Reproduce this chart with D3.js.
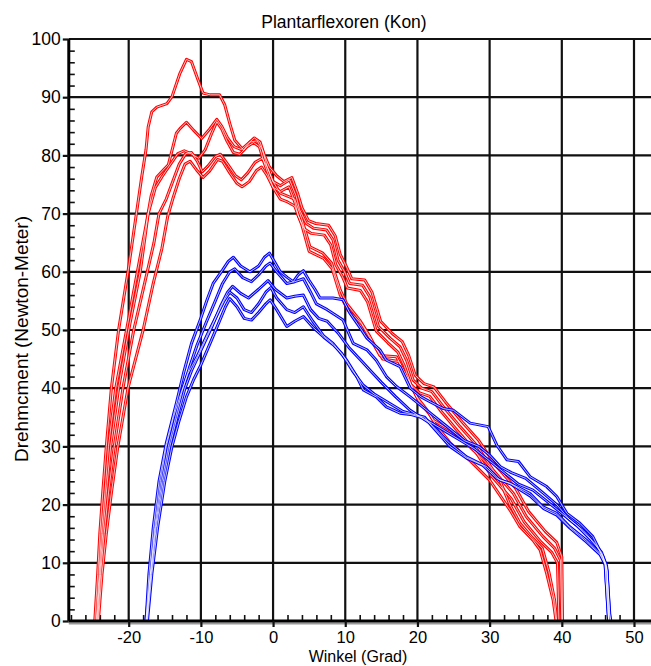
<!DOCTYPE html>
<html><head><meta charset="utf-8">
<script src="https://cdn.jsdelivr.net/npm/d3@7"></script>
<style>body{margin:0;background:#fff}svg{display:block}</style>
</head><body><svg id="c" width="651" height="666"></svg>
<script>
const titleText = "Plantarflexoren (Kon)";
const xTitleText = "Winkel (Grad)";
const yTitleText = "Drehmcment (Newton-Meter)";
const xTicks = [-20,-10,0,10,20,30,40,50];
const yTicks = [0,10,20,30,40,50,60,70,80,90,100];
const xMinor = [-28,-26,-24,-22,-18,-16,-14,-12,-8,-6,-4,-2,2,4,6,8,12,14,16,18,22,24,26,28,32,34,36,38,42,44,46,48];
const yMinor = [2,4,6,8,12,14,16,18,22,24,26,28,32,34,36,38,42,44,46,48,52,54,56,58,62,64,66,68,72,74,76,78,82,84,86,88,92,94,96,98];

// Red series (angle, torque)
const red1 = [[-24.7,0],[-24.3,8],[-24,15],[-23.6,22],[-23.1,30],[-22.4,40],[-21.4,50],[-20.1,60],[-19.4,66],[-18.7,72],[-18.2,76.3],[-17.6,81],[-17.3,84.9],[-16.8,87.5],[-16.1,88.3],[-14.7,88.9],[-14,90.1],[-12.9,94.1],[-12,96.5],[-11.3,96.1],[-10.4,93],[-9.7,90.7],[-8.7,90.4],[-7.4,90.4],[-6.7,88.7],[-6,85.5],[-5.3,82.6],[-4.1,80.9],[-3.2,82.3],[-2.2,82.5],[-1.5,81],[-0.8,78],
  [0,75.5],[1,74.8],[2.3,75.8],[3.2,73],[3.7,70.6],[4.6,68.3],[5.6,67.5],[7.4,67.2],[8.3,65.5],[9,62],[9.9,60],[10.6,58],[12.4,57.7],[13.4,55.7],[14.6,50.6],[16.2,48.6],[17.6,47.1],[18.5,44.8],[19.4,41.4],[20.6,40],[22,39.4],[23.6,36.8],[25.9,33.4],[28.2,30.2],[30.5,25.9],[33.3,21.9],[35.1,17.9],[37.4,14.5],[39,12.5],[39.8,10.5],[40,0]];
const red2 = [[-24.5,0],[-24.1,8],[-23.8,15],[-23.3,22],[-22.8,30],[-21.8,40],[-20.3,50],[-18.8,60],[-17.6,68],[-16.9,73],[-16.1,76.3],[-15.2,77.5],[-14.5,78.4],[-13.4,83.8],[-12.9,84.6],[-12,85.7],[-11,84.3],[-9.9,82.9],[-8.8,84.5],[-7.8,86.2],[-7.1,85],[-6.3,83],[-5.4,81.5],[-4.4,81],[-3.5,82],[-2.6,83],[-1.8,82.3],[-1.2,80],[-0.5,78],
  [0.5,76.5],[1.5,75.5],[2.6,76.2],[3.4,73.5],[4,71],[4.9,68.8],[5.9,68.3],[7.7,68],[8.6,66.2],[9.3,63],[10.2,60.8],[10.9,58.8],[12.7,58.6],[13.7,56.5],[14.9,51.5],[16.5,49.4],[17.9,48],[18.8,45.6],[19.7,42.2],[20.9,40.8],[22.3,40.2],[23.9,37.6],[26.2,34.2],[28.5,31],[30.8,26.8],[33.6,22.8],[35.4,18.8],[37.7,15.4],[39.3,13.5],[40,11],[40.1,0]];
const red3 = [[-24.4,0],[-24,8],[-23.6,15],[-23.1,22],[-22.5,30],[-21.4,40],[-20,50],[-18.4,60],[-17.3,70],[-16.3,74.5],[-15.3,76.5],[-14.2,78.5],[-13.2,80.3],[-12.3,80.8],[-11.4,80.3],[-10.3,79.5],[-9.4,81],[-8.6,83.5],[-7.8,85.8],[-7.1,84.5],[-6.4,82.5],[-5.5,80.5],[-4.6,80.2],[-3.6,81.5],[-2.7,82.2],[-1.9,81.5],[-1.3,79],[-0.6,76.5],
  [0,74.5],[1,73.8],[2.2,74.6],[3,72],[3.5,69.6],[4.3,67.4],[5.3,66.6],[7.1,66.3],[8,64.6],[8.7,61.2],[9.6,59.2],[10.3,57.2],[12.1,56.8],[13.1,54.8],[14.3,49.8],[15.9,47.8],[17.3,46.2],[18.2,43.8],[19.1,40.6],[20.3,39.2],[21.7,38.6],[23.3,36],[25.6,32.6],[27.9,29.4],[30.2,25],[33,21],[34.8,17],[37.1,13.6],[38.6,11.8],[39.4,10],[39.6,0]];
const red4 = [[-24.3,0],[-23.9,8],[-23.4,15],[-22.8,22],[-22,30],[-20.8,40],[-19.3,50],[-17.8,58],[-16.5,65],[-15.8,70],[-14.8,72.5],[-13.9,75.5],[-13,78.5],[-12.1,80.3],[-11.3,80.5],[-10.5,79],[-9.8,77.2],[-9,78.2],[-8,79.8],[-7.3,80.2],[-6.3,78.5],[-5.2,76.5],[-4.4,75.8],[-3.5,77],[-2.5,78.8],[-1.5,79.5],[-0.8,78],
  [0,75.5],[1,73.5],[2,73],[3,72.5],[4,69],[5.1,64.3],[6.9,63.2],[8.1,61.5],[9.3,56.9],[10.2,54.5],[12,51.7],[13.4,48.9],[14.8,45.6],[17.1,45.4],[19,40.8],[19.9,38.5],[21.3,36.3],[22.2,34.5],[24.5,32.8],[26.3,31.1],[27.7,29.4],[29.6,27.1],[31.4,24.2],[32.8,20],[34.2,16.8],[36,14.2],[37.3,12.5],[38.2,8.5],[39,3.6],[39.3,0]];
const red5 = [[-24.2,0],[-23.7,8],[-23.1,15],[-22.4,22],[-21.5,30],[-20.1,40],[-18,50],[-16.6,58],[-15.4,64],[-14.6,69.5],[-13.9,72.5],[-13,76],[-12.2,78.5],[-11.5,79],[-10.6,77.5],[-9.7,76.2],[-8.8,77.3],[-7.7,79.3],[-7,79],[-6,77],[-5,75.2],[-4.3,74.6],[-3.3,75.5],[-2.3,77.4],[-1.6,78],[-0.8,76.5],
  [0,74.5],[1,72.5],[2,72],[3,71.3],[4,68],[5,63.5],[7,62.3],[8.2,60.5],[9.3,56],[10.4,53.4],[12.3,51],[13.7,48],[15.2,45],[17.4,44.6],[19.3,40],[20.3,37.6],[21.7,35.5],[22.6,33.6],[24.6,30.5],[27.5,27.3],[30,24.2],[32.8,19.1],[34.2,16.2],[36,13.9],[37,12.2],[37.9,8.2],[38.8,3.6],[39.2,0]];

// Blue series (angle, torque)
const blue1 = [[-17.6,0],[-17.2,8],[-16.6,16],[-15.8,24],[-14.8,30.5],[-13.4,37.4],[-12.4,42.6],[-11.3,47.7],[-10.1,51.7],[-9.2,55],[-8.3,58],[-7,60.3],[-6.2,61.8],[-5.5,62.5],[-4.5,61],[-3.2,60],[-2,61],[-1.2,62.5],[-0.5,63.2],[0.3,61.5],[1,60],[2,59],[2.8,58.3],[3.5,59.5],[4.2,60.2],[5,58.5],[5.8,57],[6.5,55.5],[8.3,55.5],[9.7,55.2],[10.6,53],[12,50.5],[13,48.6],[14.8,46.6],[15.7,44.8],[17.6,43.7],[19,40],[20.5,38.5],[22,37.5],[23.6,36.5],[25,36.2],[27.3,34],[29.8,33.4],[31,30.2],[32.4,27.7],[34,27.4],[35.6,24.8],[37.9,23.1],[39.3,21.4],[40.7,18.5],[42.5,16.8],[44.3,14.5],[45.7,11],[46.2,9.3],[46.6,1.3],[46.8,0]];
const blue2 = [[-17.5,0],[-17,8],[-16.3,16],[-15.4,24],[-14.5,30],[-13.5,35],[-12.6,39.5],[-11.6,43.5],[-10.5,47.5],[-9.2,51.5],[-8,55],[-7,58],[-6,60],[-5.3,60.5],[-4.2,59],[-3,58.3],[-2,59.5],[-1,61],[-0.4,61.5],[0.5,60],[1.9,58],[3,58.3],[4.2,58.8],[5.2,56.5],[6,54.5],[7.5,53.5],[9.7,51.7],[11.1,47.7],[13,46.6],[14.3,44.8],[15.7,42],[17.1,40.3],[19,38.5],[20.5,37],[22,35.5],[24,33.5],[26.5,31],[28.5,30],[30,28.5],[31.5,26.5],[33,25.5],[35,24.5],[37.4,22],[39.3,20],[41,17.5],[43,15.5],[44.8,13],[45.7,11],[46.3,8.5],[46.5,0]];
const blue3 = [[-17.5,0],[-16.9,8],[-16.2,16],[-15.2,24],[-14.3,30],[-13.3,35],[-12.2,40],[-11.3,43],[-10,46.5],[-8.5,50.5],[-7.3,54],[-6.3,56.5],[-5.6,57.5],[-4.5,56.3],[-3.4,55.5],[-2,57],[-0.7,58.5],[0.3,57],[1.9,55.5],[3,55.8],[4.2,56],[5.2,53.5],[6.3,52],[7.5,51.5],[9,49.5],[10.5,47],[12,45],[13.5,43],[15,41],[17,38.5],[19,36.2],[21.7,34],[24.5,30.5],[26.8,28.2],[29.6,26.5],[31.4,24.2],[32.8,23.7],[35.6,21.9],[37.4,19.6],[39.3,18.5],[41.1,16.2],[43.4,13.9],[45.3,11.6],[46,9.9],[46.4,1.9],[46.5,0]];
const blue4 = [[-17.6,0],[-17,8],[-16.4,16],[-15.6,24],[-14.8,30],[-13.8,35],[-12.8,39],[-11.8,42.5],[-10.5,45.5],[-9,49.5],[-7.8,52.5],[-6.8,55],[-6,56.5],[-5,55.5],[-4,53.5],[-3,53],[-2,54.5],[-1,56.5],[-0.3,57.3],[0.5,55.5],[1.9,53.5],[3,53],[4.2,54],[5.5,51.5],[7,49],[8.3,47.7],[10.2,44.8],[11.6,42],[12.5,39.7],[14.3,38.5],[15.7,36.8],[17.6,35.7],[19,35.5],[20.5,35],[22,34],[24,32.5],[26,31],[28,29.5],[30,27.5],[32,25.5],[34,23.5],[36,22.5],[38,20.5],[40,18.5],[42,16.5],[44,14],[45.5,11.8],[46.2,9.5],[46.6,2],[46.7,0]];
const blue5 = [[-17.4,0],[-16.8,8],[-16,16],[-15,24],[-14,30],[-13,34.5],[-12,38.5],[-11,41.5],[-10,44],[-8.8,47.5],[-7.6,51],[-6.6,54],[-6,55.4],[-5,54],[-4,52],[-3,51.7],[-2,53],[-1,54.5],[-0.4,55.2],[0.5,53.5],[1.9,50.6],[3,51.5],[4.2,52.3],[5.5,50.5],[7,48.8],[8.3,47.5],[9.5,46],[11,43],[12.5,40.5],[14,39],[16,37.5],[18,36],[19.5,35.5],[21,35],[22,33.5],[24.5,30],[26.8,28],[29,26.8],[31,24.5],[33,23.5],[35.6,21.5],[37.5,19.3],[39.3,18.2],[41.1,16],[43.4,13.6],[45.3,11.4],[46,9.7],[46.4,1.5],[46.5,0]];

const redSeries = [red1, red2, red3, red4, red5];
const blueSeries = [blue1, blue2, blue3, blue4, blue5];

const svg = d3.select('#c');
const x = d3.scaleLinear().domain([-20, 50]).range([128.7, 634]);
const y = d3.scaleLinear().domain([0, 100]).range([621, 39]);
const xLeft = x(-28.3), xRight = 651;

// grid
const grid = svg.append('g');
grid.selectAll('line.v').data(xTicks).join('line').attr('class','v')
  .attr('x1', d => x(d)).attr('x2', d => x(d)).attr('y1', y(100)).attr('y2', y(0))
  .attr('stroke', '#111').attr('stroke-width', 2.2);
grid.selectAll('line.h').data(yTicks.filter(d => d > 0)).join('line').attr('class','h')
  .attr('x1', xLeft).attr('x2', xRight).attr('y1', d => y(d)).attr('y2', d => y(d))
  .attr('stroke', '#111').attr('stroke-width', 2.2);

// minor ticks (inside)
svg.append('g').attr('transform', `translate(0,${y(0)})`)
  .call(d3.axisTop(x).tickValues(xMinor).tickSize(6).tickFormat(''))
  .call(g => g.select('.domain').remove())
  .call(g => g.selectAll('line').attr('stroke', '#111').attr('stroke-width', 1.6));
svg.append('g').attr('transform', `translate(${xLeft},0)`)
  .call(d3.axisRight(y).tickValues(yMinor).tickSize(6).tickFormat(''))
  .call(g => g.select('.domain').remove())
  .call(g => g.selectAll('line').attr('stroke', '#111').attr('stroke-width', 1.6));

// data lines
const line = d3.line().x(d => x(d[0])).y(d => y(d[1]));
const drawSet = (data, color) => {
  const g = svg.append('g');
  g.selectAll('path.o').data(data).join('path').attr('class','o')
    .attr('d', line).attr('fill', 'none').attr('stroke', color)
    .attr('stroke-width', 3).attr('stroke-linejoin', 'round');
  g.selectAll('path.i').data(data).join('path').attr('class','i')
    .attr('d', line).attr('fill', 'none').attr('stroke', '#fff').attr('stroke-opacity', 0.75)
    .attr('stroke-width', 1).attr('stroke-linejoin', 'round');
};
drawSet(redSeries, '#ff0000');
drawSet(blueSeries, '#0000ff');

// axes
svg.append('line').attr('x1', xLeft).attr('x2', xRight).attr('y1', y(0) + 2.5).attr('y2', y(0) + 2.5)
  .attr('stroke', '#999').attr('stroke-width', 2);
const ax = svg.append('g').attr('transform', `translate(0,${y(0)})`)
  .call(d3.axisBottom(x).tickValues(xTicks).tickSize(6).tickPadding(4).tickFormat(d => String(d)).tickSizeOuter(0));
ax.select('.domain').attr('d', `M${xLeft},0H${xRight}`).attr('stroke', '#000').attr('stroke-width', 3);
ax.selectAll('line').attr('stroke', '#111').attr('stroke-width', 2.2);
ax.selectAll('text').attr('font-family', 'Liberation Sans, Arial, sans-serif').attr('font-size', 16.5).attr('fill', '#000');

const ay = svg.append('g').attr('transform', `translate(${xLeft},0)`)
  .call(d3.axisLeft(y).tickValues(yTicks).tickSize(6).tickPadding(2).tickFormat(d => String(d)).tickSizeOuter(0));
ay.select('.domain').attr('d', `M0,${y(100)}V${y(0)}`).attr('stroke', '#000').attr('stroke-width', 3);
ay.selectAll('line').attr('stroke', '#111').attr('stroke-width', 2.2);
ay.selectAll('text').attr('font-family', 'Liberation Sans, Arial, sans-serif').attr('font-size', 17.5).attr('fill', '#000');

// titles
svg.append('text').attr('x', 344).attr('y', 27.5).attr('text-anchor', 'middle')
  .attr('font-family', 'Liberation Sans, Arial, sans-serif').attr('font-size', 17.5).text(titleText);
svg.append('text').attr('x', 358).attr('y', 662).attr('text-anchor', 'middle')
  .attr('font-family', 'Liberation Sans, Arial, sans-serif').attr('font-size', 16).text(xTitleText);
svg.append('text').attr('transform', 'translate(28,339) rotate(-90)').attr('text-anchor', 'middle')
  .attr('font-family', 'Liberation Sans, Arial, sans-serif').attr('font-size', 19).text(yTitleText);
</script></body></html>
